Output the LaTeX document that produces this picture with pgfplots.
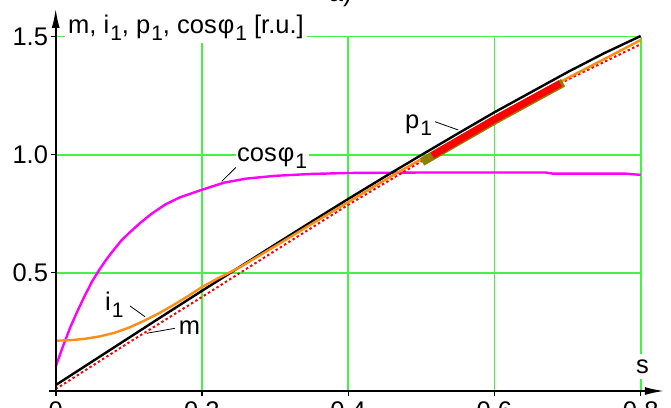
\documentclass[border=0pt]{standalone}
\usepackage{fontspec}
\setmainfont{Liberation Sans}
\usepackage{pgfplots}
\pgfplotsset{compat=1.18}
\usetikzlibrary{arrows.meta}

\definecolor{gridgreen}{RGB}{70,240,70}
\definecolor{curveorange}{RGB}{255,140,20}
\definecolor{pmagenta}{RGB}{255,0,255}
\definecolor{pred}{RGB}{255,0,0}
\definecolor{polive}{RGB}{140,130,0}

% lowered index, as in i_1
\newcommand{\sub}[1]{\kern1bp\raisebox{-7bp}{\fontsize{21bp}{21bp}\selectfont #1}}

\begin{document}
\begin{tikzpicture}
\begin{axis}[
  x=731.25bp, y=236.2bp,
  xmin=0, xmax=0.8, ymin=0, ymax=1.5,
  enlargelimits=false,
  clip=false,
  axis lines=left,
  axis line style={draw=none},
  xtick={0,0.2,0.4,0.6,0.8},
  ytick={0.5,1,1.5},
  grid=major,
  major grid style={gridgreen, line width=1.6bp},
  tick align=outside,
  major tick length=5bp,
  tick style={black, line width=1.2bp},
  font=\fontsize{25.5bp}{30bp}\selectfont,
  /pgf/number format/assume math mode=true,
  yticklabel style={inner xsep=2.5bp,
    /pgf/number format/.cd, fixed, fixed zerofill, precision=1},
  xticklabel style={inner ysep=5bp},
]

% cos phi_1
\addplot[pmagenta, line width=2.4bp] coordinates {
  (0,0.103)(0.01,0.19)(0.02,0.27)(0.03,0.34)(0.04,0.405)(0.05,0.465)
  (0.06,0.515)(0.07,0.56)(0.08,0.60)(0.09,0.638)(0.10,0.668)(0.115,0.71)
  (0.13,0.748)(0.15,0.79)(0.17,0.82)(0.20,0.852)(0.23,0.882)(0.26,0.899)
  (0.30,0.911)(0.35,0.919)(0.40,0.923)(0.50,0.925)(0.60,0.925)(0.67,0.925)
  (0.68,0.920)(0.78,0.920)(0.80,0.915)};

% m, dotted reference
\addplot[pred, line width=2bp, dash pattern=on 2.5bp off 2.5bp] coordinates {
  (0,0.008)(0.1,0.205)(0.2,0.398)(0.3,0.594)(0.4,0.788)(0.5,0.972)
  (0.6,1.150)(0.7,1.318)(0.8,1.468)};

% m
\addplot[black, line width=2.4bp] coordinates {
  (0,0.025)(0.05,0.125)(0.1,0.225)(0.15,0.325)(0.2,0.424)(0.25,0.522)
  (0.3,0.62)(0.35,0.717)(0.4,0.813)(0.45,0.907)(0.5,0.999)(0.55,1.09)
  (0.6,1.18)(0.65,1.265)(0.7,1.35)(0.75,1.43)(0.8,1.503)};

% i_1
\addplot[curveorange, line width=2.4bp] coordinates {
  (0,0.213)(0.02,0.215)(0.04,0.221)(0.06,0.231)(0.08,0.246)(0.10,0.268)
  (0.12,0.296)(0.14,0.327)(0.16,0.362)(0.18,0.400)(0.20,0.440)(0.22,0.474)
  (0.24,0.505)(0.25,0.521)(0.26,0.539)(0.30,0.613)(0.35,0.707)(0.40,0.800)
  (0.45,0.893)(0.50,0.982)(0.55,1.070)(0.60,1.158)(0.65,1.242)(0.70,1.325)
  (0.75,1.405)(0.80,1.486)};

% p_1, measured band
\addplot[polive, line width=8.5bp] coordinates {
  (0.501,0.970)(0.6,1.146)(0.694,1.305)};
\addplot[pred, line width=7bp] coordinates {
  (0.515,0.997)(0.6,1.150)(0.69,1.302)};

% axes with arrows
\draw[black, line width=2.2bp, -{Latex[length=20bp,width=8bp]}]
  (axis cs:-0.009,0) -- (axis cs:0.833,0);
\draw[black, line width=2.2bp, -{Latex[length=20bp,width=8bp]}]
  (axis cs:0,-0.02) -- (axis cs:0,1.6215);

% curve labels with leaders
\draw[black, line width=0.8bp] (axis cs:0.2544,0.9708) -- (axis cs:0.2271,0.8878);
\node[anchor=base west, fill=white, inner xsep=1.5bp, inner ysep=1bp]
  at (axis cs:0.2459,0.9708) {cos\kern1bp φ\sub{1}};

\draw[black, line width=0.8bp] (axis cs:0.5187,1.1401) -- (axis cs:0.5506,1.1050);
\node[anchor=base west, inner sep=0pt] at (axis cs:0.4777,1.112) {p\sub{1}};

\draw[black, line width=0.8bp] (axis cs:0.1016,0.3599) -- (axis cs:0.1221,0.3146);
\node[anchor=base west, inner sep=0pt] at (axis cs:0.0674,0.3429) {i\sub{1}};

\draw[black, line width=0.8bp] (axis cs:0.1631,0.2655) -- (axis cs:0.1244,0.2443);
\node[anchor=base west, inner sep=0pt] at (axis cs:0.168,0.2371) {m};

% axis names
\node[anchor=base west, fill=white, inner xsep=3bp, inner ysep=3bp]
  at (axis cs:0.0127,1.5144) {m, i\sub{1}, p\sub{1}, cos\kern1bp φ\sub{1} [r.u.]};
\node[anchor=base, fill=white, inner sep=5.5bp] at (axis cs:0.8025,0.0762) {s};

% panel tag
\node[anchor=base] at (axis cs:0.389,1.649) {a)};

% picture frame
\coordinate (BL) at (axis cs:-0.07617,-0.07197);
\coordinate (TR) at (axis cs:0.84144,1.65538);
\end{axis}
\pgfresetboundingbox
\useasboundingbox (BL) rectangle (TR);
\end{tikzpicture}
\end{document}
